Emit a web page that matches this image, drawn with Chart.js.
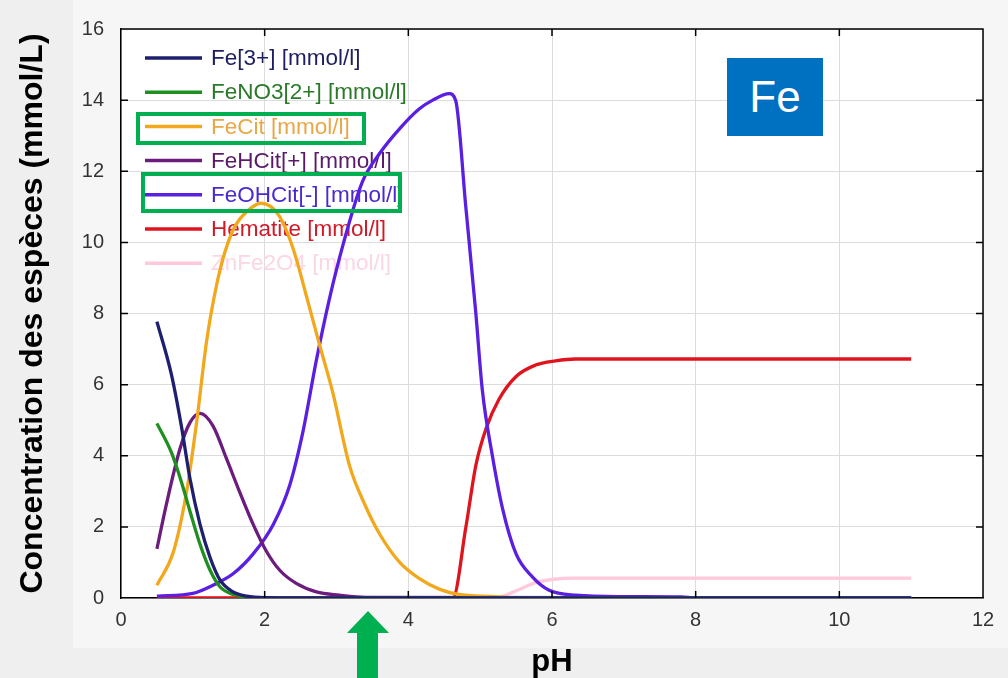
<!DOCTYPE html>
<html>
<head>
<meta charset="utf-8">
<script src="https://cdn.jsdelivr.net/npm/chart.js@4"></script>
<style>
  body { margin: 0; background: #efefef; overflow: hidden; }
  #wrap { position: relative; width: 1008px; height: 678px; }
  #panel { position: absolute; left: 73px; top: 0; width: 935px; height: 648px; background: #f6f6f6; }
  canvas { position: absolute; left: 0; top: 0; }
  .cadre { position: absolute; border: 4px solid #00b050; box-sizing: border-box; }
  #tag { position: absolute; left: 727px; top: 58px; width: 96px; height: 78px; background: #0070c0;
         color: #fff; font: 44px "Liberation Sans", Arial, sans-serif; display: flex;
         align-items: center; justify-content: center; }
  svg { position: absolute; left: 0; top: 0; }
</style>
</head>
<body>
<div id="wrap">
  <div id="panel"></div>
  <canvas id="graphe" width="1008" height="678"></canvas>
  <div class="cadre" style="left:136px;top:112px;width:230px;height:33px"></div>
  <div class="cadre" style="left:141px;top:172px;width:261px;height:41px"></div>
  <div id="tag">Fe</div>
  <svg width="1008" height="678"><polygon points="368,611 389,633 378,633 378,678 357,678 357,633 347,633" fill="#00b050"/></svg>
</div>
<script>
// valeurs (pH, concentration en mmol/l)
const fe3pH = [0.5, 0.7, 0.84, 0.96, 1.1, 1.24, 1.38, 1.56, 1.75, 2.0, 3, 5.3, 11];
const fe3   = [7.77, 6.3, 4.84, 3.36, 2.07, 1.14, 0.5, 0.17, 0.05, 0.01, 0, 0, 0];

const feNO3pH = [0.5, 0.7, 0.84, 0.96, 1.1, 1.24, 1.38, 1.56, 1.8, 2.2, 11];
const feNO3   = [4.91, 4.1, 3.27, 2.44, 1.51, 0.78, 0.31, 0.1, 0.02, 0, 0];

const feCitpH = [0.5, 0.73, 0.91, 1.05, 1.19, 1.3, 1.4, 1.5, 1.6, 1.8, 1.95, 2.2, 2.4, 2.58, 2.76, 2.95, 3.18, 3.4, 3.6, 3.88, 4.15, 4.43, 4.7, 5.2, 5.5, 11];
const feCit   = [0.36, 1.3, 2.95, 4.9, 7.2, 8.5, 9.4, 10.05, 10.5, 10.95, 11.1, 10.75, 9.8, 8.5, 7.15, 5.76, 3.73, 2.6, 1.8, 1.0, 0.55, 0.25, 0.1, 0.04, 0, 0];

const feHCitpH = [0.5, 0.63, 0.82, 0.96, 1.1, 1.28, 1.47, 1.65, 1.84, 2.02, 2.21, 2.44, 2.72, 3.04, 3.4, 11];
const feHCit   = [1.38, 2.62, 4.19, 4.93, 5.19, 4.84, 3.91, 2.99, 2.07, 1.33, 0.78, 0.41, 0.17, 0.08, 0.02, 0];

const feOHCitpH = [0.5, 1.0, 1.28, 1.56, 1.84, 2.12, 2.35, 2.53, 2.72, 2.9, 3.1, 3.36, 3.6, 3.88, 4.15, 4.34, 4.57, 4.66, 4.8, 4.94, 5.03, 5.17, 5.31, 5.5, 5.73, 5.96, 6.33, 7.0, 7.8, 8.0, 11];
const feOHCit   = [0.05, 0.13, 0.36, 0.68, 1.24, 2.07, 3.18, 4.65, 6.69, 8.4, 10.0, 11.7, 12.5, 13.2, 13.75, 14.0, 14.18, 13.98, 11.0, 8.0, 5.85, 4.0, 2.53, 1.24, 0.59, 0.22, 0.08, 0.04, 0.03, 0, 0];

const hematitepH = [0.5, 4.62, 4.8, 4.94, 5.08, 5.26, 5.5, 5.77, 6.05, 6.33, 11];
const hematite   = [0, 0, 1.98, 3.73, 4.75, 5.58, 6.23, 6.55, 6.67, 6.72, 6.72];

const znFe2O4pH = [0.5, 5.2, 5.5, 5.75, 6.0, 6.3, 11];
const znFe2O4   = [0, 0, 0.2, 0.42, 0.52, 0.56, 0.56];

const etiquettes = ['Fe[3+] [mmol/l]', 'FeNO3[2+] [mmol/l]', 'FeCit [mmol/l]', 'FeHCit[+] [mmol/l]',
                    'FeOHCit[-] [mmol/l]', 'Hematite [mmol/l]', 'ZnFe2O4 [mmol/l]'];
const couleurs = ['#1f1f70', '#1f8f1f', '#f2a81d', '#6b1c7c', '#5a1fe0', '#e0141e', '#ffc8dc'];
const couleursTexte = ['#1f1f60', '#2a7a2a', '#e8a848', '#5a1a6a', '#4a2ad0', '#d01a28', '#fbd6e4'];

function points(xs, ys) {
    return xs.map((x, i) => ({ x: x, y: ys[i] }));
}

const series = [
    points(fe3pH, fe3),
    points(feNO3pH, feNO3),
    points(feCitpH, feCit),
    points(feHCitpH, feHCit),
    points(feOHCitpH, feOHCit),
    points(hematitepH, hematite),
    points(znFe2O4pH, znFe2O4)
];

const police = '"Liberation Sans", Arial, sans-serif';
Chart.defaults.font.family = police;

// fond blanc, cadre complet, graduations intérieures et légende
const cadrePlugin = {
    id: 'cadre',
    beforeDraw(chart) {
        const a = chart.chartArea;
        const ctx = chart.ctx;
        ctx.save();
        ctx.fillStyle = '#ffffff';
        ctx.fillRect(a.left, a.top, a.right - a.left, a.bottom - a.top);
        ctx.restore();
    },
    beforeDatasetsDraw(chart) {
        const ctx = chart.ctx;
        ctx.save();
        ctx.font = '22.5px ' + police;
        ctx.textBaseline = 'middle';
        etiquettes.forEach((txt, i) => {
            const y = 58 + i * 34.2;
            ctx.strokeStyle = couleurs[i];
            ctx.lineWidth = 3.5;
            ctx.beginPath();
            ctx.moveTo(145, y);
            ctx.lineTo(202, y);
            ctx.stroke();
            ctx.fillStyle = couleursTexte[i];
            ctx.fillText(txt, 211, y + 1);
        });
        ctx.restore();
    },
    afterDraw(chart) {
        const a = chart.chartArea;
        const ctx = chart.ctx;
        const sx = chart.scales.x, sy = chart.scales.y;
        ctx.save();
        ctx.strokeStyle = '#000';
        ctx.lineWidth = 1.5;
        ctx.beginPath();
        ctx.moveTo(a.left, a.top);
        ctx.lineTo(a.right, a.top);
        ctx.lineTo(a.right, a.bottom);
        for (let v = 2; v < 12; v += 2) {
            const px = sx.getPixelForValue(v);
            ctx.moveTo(px, a.bottom); ctx.lineTo(px, a.bottom - 7);
            ctx.moveTo(px, a.top); ctx.lineTo(px, a.top + 7);
        }
        for (let v = 2; v < 16; v += 2) {
            const py = sy.getPixelForValue(v);
            ctx.moveTo(a.left, py); ctx.lineTo(a.left + 7, py);
            ctx.moveTo(a.right, py); ctx.lineTo(a.right - 7, py);
        }
        ctx.stroke();
        ctx.restore();
    }
};

new Chart(document.getElementById('graphe').getContext('2d'), {
    type: 'line',
    data: {
        datasets: etiquettes.map((lab, i) => ({
            label: lab,
            data: series[i],
            borderColor: couleurs[i],
            backgroundColor: couleurs[i],
            borderWidth: 3.3,
            pointRadius: 0,
            fill: false,
            cubicInterpolationMode: 'monotone'
        }))
    },
    options: {
        responsive: false,
        animation: false,
        layout: { padding: { top: 20, right: 25, left: 0, bottom: 0 } },
        plugins: { legend: { display: false }, tooltip: { enabled: false } },
        scales: {
            x: {
                type: 'linear', min: 0, max: 12,
                ticks: { stepSize: 2, padding: 10, color: '#333', font: { size: 20 } },
                grid: { color: '#dcdcdc', drawTicks: false },
                border: { color: '#000', width: 1.5 },
                title: { display: true, text: 'pH', color: '#000', padding: 0,
                         font: { size: 31, weight: 'bold', lineHeight: 1 } },
                afterFit: (s) => { s.height = 80; }
            },
            y: {
                min: 0, max: 16,
                ticks: { stepSize: 2, padding: 17, color: '#333', font: { size: 20 } },
                grid: { color: '#dcdcdc', drawTicks: false },
                border: { color: '#000', width: 1.5 },
                title: { display: true, text: 'Concentration des espèces (mmol/L)', color: '#000',
                         padding: { top: 17, bottom: 0 },
                         font: { size: 32, weight: 'bold', lineHeight: 1 } },
                afterFit: (s) => { s.width = 121; }
            }
        }
    },
    plugins: [cadrePlugin]
});
</script>
</body>
</html>
